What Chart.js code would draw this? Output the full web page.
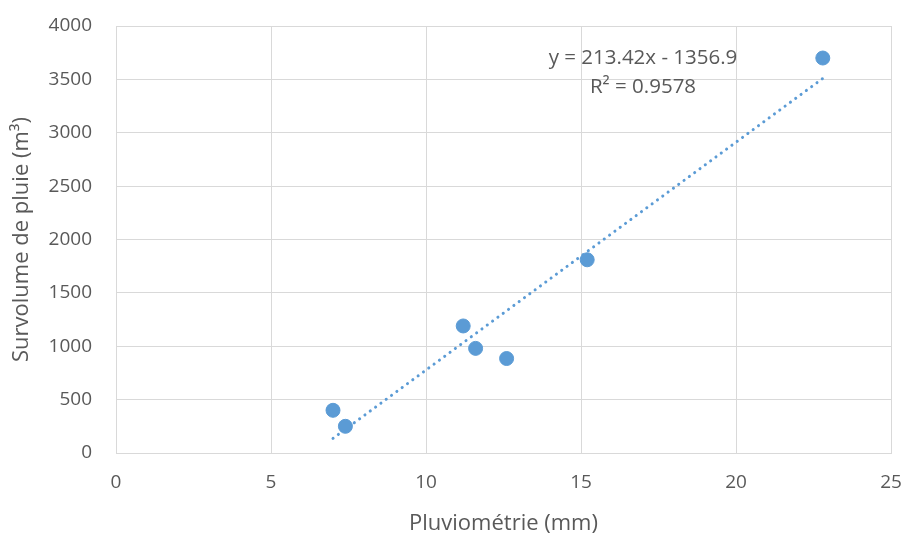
<!DOCTYPE html>
<html>
<head>
<meta charset="utf-8">
<script src="https://cdn.jsdelivr.net/npm/chart.js@4/dist/chart.umd.min.js"></script>
<style>
  html, body { margin: 0; padding: 0; background: #ffffff; }
  #wrap { width: 906px; height: 537px; }
</style>
</head>
<body>
<div id="wrap"><canvas id="c" width="906" height="537"></canvas></div>
<script>
// Rainfall (mm) vs excess rain volume (m³)
const pluviometrie = [7.0, 7.4, 11.2, 11.6, 12.6, 15.2, 22.8];
const survolume = [400, 250, 1190, 980, 885, 1810, 3700];

// Linear trend reported on the chart
const slope = 213.42;
const intercept = -1356.9;
const r2 = 0.9578;

const xTicks = [0, 5, 10, 15, 20, 25];
const yTicks = [0, 500, 1000, 1500, 2000, 2500, 3000, 3500, 4000];

const TEXT = '#595959';
const GRID = '#d9d9d9';
const BLUE = '#5B9BD5';
const FONT = "'Open Sans', 'Noto Sans', sans-serif";

const xMin = Math.min(...pluviometrie);
const xMax = Math.max(...pluviometrie);
const trend = [xMin, xMax].map(x => ({ x, y: slope * x + intercept }));
const points = pluviometrie.map((x, i) => ({ x, y: survolume[i] }));

const eqLabel = 'y = ' + slope.toFixed(2) + 'x - ' + Math.abs(intercept).toFixed(1);
const r2Label = 'R² = ' + r2.toFixed(4);

// Trend equation and R² written above the upper end of the fit
const equationPlugin = {
  id: 'equation',
  afterDatasetsDraw(chart) {
    const { ctx, scales } = chart;
    const px = scales.x.getPixelForValue(17.0);
    const py = scales.y.getPixelForValue(3700);
    ctx.save();
    ctx.fillStyle = TEXT;
    ctx.font = '20.5px ' + FONT;
    ctx.textAlign = 'center';
    ctx.textBaseline = 'middle';
    ctx.fillText(eqLabel, px, py);
    ctx.fillText(r2Label, px, py + 29);
    ctx.restore();
  }
};

new Chart(document.getElementById('c'), {
  type: 'scatter',
  data: {
    datasets: [
      {
        type: 'line',
        data: trend,
        borderColor: BLUE,
        borderWidth: 3,
        borderDash: [0.1, 6.5],
        borderCapStyle: 'round',
        pointRadius: 0,
        fill: false,
        order: 2
      },
      {
        data: points,
        backgroundColor: BLUE,
        borderColor: BLUE,
        pointRadius: 7,
        pointHoverRadius: 7,
        order: 1
      }
    ]
  },
  options: {
    responsive: false,
    animation: false,
    layout: { padding: { top: 26, right: 15, left: 0, bottom: 0 } },
    plugins: {
      legend: { display: false },
      tooltip: { enabled: false }
    },
    scales: {
      x: {
        type: 'linear',
        min: 0, max: 25,
        afterBuildTicks: s => { s.ticks = xTicks.map(v => ({ value: v })); },
        afterFit: s => { s.height = 84; s.paddingLeft = 0; s.paddingRight = 0; },
        grid: { color: GRID, lineWidth: 1, drawTicks: false },
        border: { color: GRID, width: 1 },
        ticks: { color: TEXT, font: { family: FONT, size: 19 }, padding: 18, maxRotation: 0,
                 callback: v => String(v) },
        title: {
          display: true,
          text: 'Pluviométrie (mm)',
          color: TEXT,
          font: { family: FONT, size: 22 },
          padding: { top: 2, bottom: 0 }
        }
      },
      y: {
        type: 'linear',
        min: 0, max: 4000,
        afterBuildTicks: s => { s.ticks = yTicks.map(v => ({ value: v })); },
        afterFit: s => { s.width = 116; s.paddingTop = 0; s.paddingBottom = 0; },
        grid: { color: GRID, lineWidth: 1, drawTicks: false },
        border: { color: GRID, width: 1 },
        ticks: { color: TEXT, font: { family: FONT, size: 19 }, padding: 24,
                 callback: v => String(v) },
        title: {
          display: true,
          text: 'Survolume de pluie (m³)',
          color: TEXT,
          font: { family: FONT, size: 22 },
          padding: { top: 9, bottom: 0 }
        }
      }
    }
  },
  plugins: [equationPlugin]
});
</script>
</body>
</html>
